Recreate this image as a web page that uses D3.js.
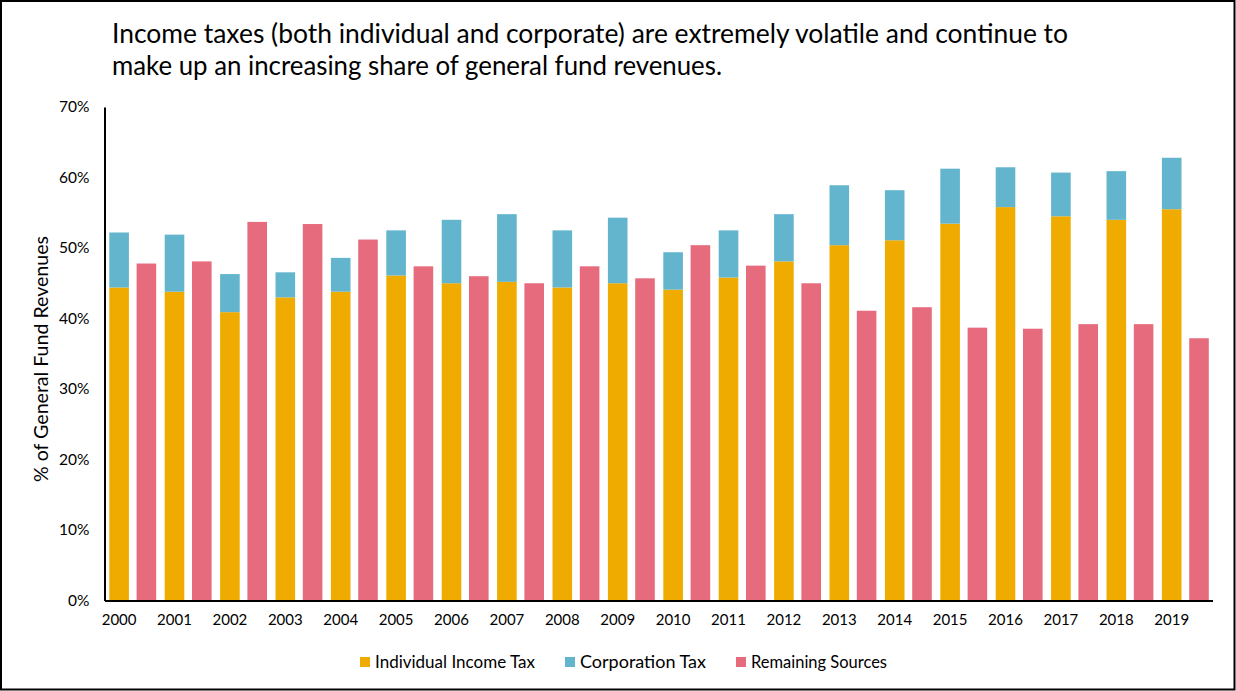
<!DOCTYPE html>
<html>
<head>
<meta charset="utf-8">
<script src="https://cdn.jsdelivr.net/npm/d3@7"></script>
<style>
  html, body { margin: 0; padding: 0; background: #fff; }
  svg { display: block; font-family: "Lato", "Open Sans", sans-serif; }
</style>
</head>
<body>
<svg id="chart" width="1236" height="691"></svg>
<script>
// ---- data ----
const years = ["2000","2001","2002","2003","2004","2005","2006","2007","2008","2009",
               "2010","2011","2012","2013","2014","2015","2016","2017","2018","2019"];
const individualIncomeTax = [44.4, 43.8, 40.9, 43.0, 43.8, 46.1, 45.0, 45.2, 44.4, 45.0,
                             44.1, 45.8, 48.1, 50.4, 51.1, 53.45, 55.8, 54.5, 54.0, 55.5];
const corporationTax = [7.8, 8.1, 5.4, 3.55, 4.8, 6.4, 9.0, 9.6, 8.1, 9.3,
                        5.3, 6.7, 6.7, 8.5, 7.1, 7.8, 5.65, 6.2, 6.9, 7.3];
const remainingSources = [47.8, 48.1, 53.7, 53.4, 51.2, 47.4, 46.0, 45.0, 47.4, 45.7,
                          50.4, 47.5, 45.0, 41.1, 41.6, 38.7, 38.55, 39.2, 39.2, 37.2];
const yTicks = [0, 10, 20, 30, 40, 50, 60, 70];
const seriesNames = ["Individual Income Tax", "Corporation Tax", "Remaining Sources"];
const colors = ["#F0AB00", "#62B5CC", "#E66C7D"];
const titleLines = [
  "Income taxes (both individual and corporate) are extremely volatile and continue to",
  "make up an increasing share of general fund revenues."
];
const yAxisTitle = "% of General Fund Revenues";

// ---- layout ----
const svg = d3.select("#chart");
const W = 1236, H = 691;

svg.append("rect").attr("x", 1).attr("y", 1).attr("width", W - 2.5).attr("height", H - 2.5)
  .attr("fill", "#fff").attr("stroke", "#000").attr("stroke-width", 2);

const x = d3.scaleBand().domain(years).range([104.5, 1212.5]).paddingInner(0).paddingOuter(0);
const sub = d3.scaleBand().domain(["tax", "rem"]).range([0, x.bandwidth()])
  .paddingInner(0.282).paddingOuter(0.156).align(0.565);
const y = d3.scaleLinear().domain([0, 70]).range([600.5, 107]);

// title
const titleWidths = [956, 610];
titleLines.forEach((t, i) => {
  svg.append("text").attr("x", 112).attr("y", 42.5 + i * 32)
    .attr("font-size", 26).attr("fill", "#000")
    .attr("textLength", titleWidths[i]).attr("lengthAdjust", "spacingAndGlyphs")
    .text(t);
});

// bars
const data = years.map((yr, i) => ({
  year: yr, ind: individualIncomeTax[i], corp: corporationTax[i], rem: remainingSources[i]
}));
const g = svg.append("g");
g.selectAll("rect.ind").data(data).join("rect").attr("class", "ind")
  .attr("x", d => x(d.year) + sub("tax")).attr("width", sub.bandwidth())
  .attr("y", d => y(d.ind)).attr("height", d => y(0) - y(d.ind))
  .attr("fill", colors[0]);
g.selectAll("rect.corp").data(data).join("rect").attr("class", "corp")
  .attr("x", d => x(d.year) + sub("tax")).attr("width", sub.bandwidth())
  .attr("y", d => y(d.ind + d.corp)).attr("height", d => y(d.ind) - y(d.ind + d.corp))
  .attr("fill", colors[1]);
g.selectAll("rect.rem").data(data).join("rect").attr("class", "rem")
  .attr("x", d => x(d.year) + sub("rem")).attr("width", sub.bandwidth())
  .attr("y", d => y(d.rem)).attr("height", d => y(0) - y(d.rem))
  .attr("fill", colors[2]);

// y axis
const yAxis = d3.axisLeft(y).tickValues(yTicks).tickFormat(d => d + "%").tickSize(0).tickPadding(15);
const ya = svg.append("g").attr("transform", "translate(104.5,0)").call(yAxis);
ya.select(".domain").attr("stroke", "#000").attr("stroke-width", 2);
ya.selectAll("text").attr("font-size", 15.5).attr("fill", "#000")
  .attr("font-family", "Lato, 'Open Sans', sans-serif");

// x axis
const xAxis = d3.axisBottom(x).tickSize(0).tickPadding(14);
const xa = svg.append("g").attr("transform", "translate(0,600.5)").call(xAxis);
xa.select(".domain").attr("stroke", "#000").attr("stroke-width", 2);
xa.selectAll(".tick").attr("transform", d => `translate(${x(d) + sub("tax") + sub.bandwidth() / 2},0)`);
xa.selectAll("text").attr("font-size", 15).attr("fill", "#000")
  .attr("font-family", "Lato, 'Open Sans', sans-serif");

// y axis title
svg.append("text").attr("transform", "translate(48,359) rotate(-90)")
  .attr("text-anchor", "middle").attr("font-size", 19).attr("fill", "#000")
  .attr("textLength", 246).attr("lengthAdjust", "spacingAndGlyphs")
  .text(yAxisTitle);

// legend
const legendX = [360, 565, 736];
const legendW = [160, 126, 136];
const lg = svg.append("g");
seriesNames.forEach((n, i) => {
  lg.append("rect").attr("x", legendX[i]).attr("y", 657).attr("width", 10).attr("height", 10)
    .attr("fill", colors[i]);
  lg.append("text").attr("x", legendX[i] + 15).attr("y", 668)
    .attr("font-size", 16.5).attr("fill", "#000")
    .attr("textLength", legendW[i]).attr("lengthAdjust", "spacingAndGlyphs")
    .text(n);
});
</script>
</body>
</html>
